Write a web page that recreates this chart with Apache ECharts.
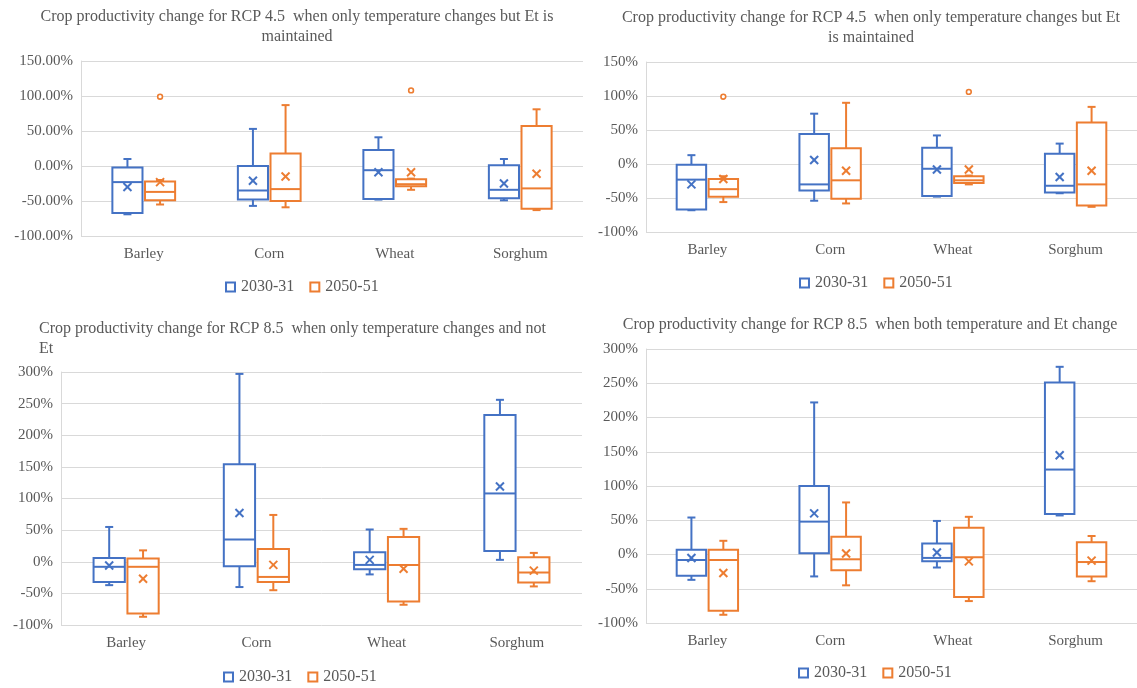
<!DOCTYPE html>
<html>
<head>
<meta charset="utf-8">
<script src="https://cdn.jsdelivr.net/npm/echarts@6/dist/echarts.min.js"></script>
<style>html,body{margin:0;padding:0;background:#fff}#c{width:1137px;height:688px}</style>
</head>
<body>
<div id="c"></div>
<script>
// ---------- DATA (values in %) ----------
const categories = ['Barley', 'Corn', 'Wheat', 'Sorghum'];
const periods = ['2030-31', '2050-51'];
const titles = [
  'Crop productivity change for RCP 4.5  when only temperature changes but Et is\nmaintained',
  'Crop productivity change for RCP 4.5  when only temperature changes but Et\nis maintained',
  'Crop productivity change for RCP 8.5  when only temperature changes and not\nEt',
  'Crop productivity change for RCP 8.5  when both temperature and Et change'
];
const yTicksTop = [-100, -50, 0, 50, 100, 150];
const yTicksBottom = [-100, -50, 0, 50, 100, 150, 200, 250, 300];

// box rows: [min, Q1, median, Q3, max]
const p1Box2030 = [[-69, -67, -23, -2, 10], [-57, -48, -35, 0, 53], [-48, -47, -6, 23, 41], [-49, -46, -34, 1, 10]];
const p1Box2050 = [[-55, -49, -37, -22, -20], [-59, -50, -33, 18, 87], [-34, -29, -26, -19, -18], [-63, -61, -32, 57, 81]];
const p1Mean2030 = [-30, -21, -9, -25];
const p1Mean2050 = [-23, -15, -9, -11];
const p1Out2050 = [[0, 99], [2, 108]];

const p2Box2030 = [[-68, -67, -23, -1, 13], [-54, -39, -30, 44, 74], [-48, -47, -7, 24, 42], [-43, -42, -32, 15, 30]];
const p2Box2050 = [[-56, -48, -37, -22, -18], [-58, -51, -24, 23, 90], [-30, -28, -24, -18, -17], [-63, -61, -30, 61, 84]];
const p2Mean2030 = [-30, 6, -8, -19];
const p2Mean2050 = [-22, -10, -8, -10];
const p2Out2050 = [[0, 99], [2, 106]];

const p3Box2030 = [[-37, -32, -8, 6, 55], [-40, -7, 35, 154, 297], [-20, -12, -5, 15, 51], [3, 17, 108, 232, 256]];
const p3Box2050 = [[-87, -82, -8, 5, 18], [-45, -32, -24, 20, 74], [-68, -63, -5, 39, 52], [-39, -33, -17, 7, 14]];
const p3Mean2030 = [-6, 77, 3, 119];
const p3Mean2050 = [-27, -5, -11, -14];

const p4Box2030 = [[-37, -31, -8, 7, 54], [-32, 2, 48, 100, 222], [-19, -10, -5, 16, 49], [57, 59, 124, 251, 274]];
const p4Box2050 = [[-88, -82, -8, 7, 20], [-45, -23, -7, 26, 76], [-68, -62, -4, 39, 55], [-39, -32, -11, 18, 27]];
const p4Mean2030 = [-5, 60, 3, 145];
const p4Mean2050 = [-27, 1.5, -10, -9];

// ---------- STYLE ----------
const BLUE = '#4472C4', ORANGE = '#ED7D31', TEXT = '#595959', GRID = '#D9D9D9';
const FONT = '"Liberation Serif", "Times New Roman", serif';
const HOLLOW = 'path://M0,0L12,0L12,12L0,12Z M2.2,2.2L2.2,9.8L9.8,9.8L9.8,2.2Z';

const panels = [
  { box: [p1Box2030, p1Box2050], mean: [p1Mean2030, p1Mean2050], out: p1Out2050, grid: { left: 81, top: 61, width: 502, height: 175 }, max: 150, ticks: yTicksTop, fmt: v => v.toFixed(2) + '%', title: { x: 297, y: 6.5, align: 'center' }, legend: { left: 225, top: 279 } },
  { box: [p2Box2030, p2Box2050], mean: [p2Mean2030, p2Mean2050], out: p2Out2050, grid: { left: 646, top: 62, width: 496, height: 170 }, max: 150, ticks: yTicksTop, fmt: v => v + '%', title: { x: 871, y: 8, align: 'center' }, legend: { left: 799, top: 275 } },
  { box: [p3Box2030, p3Box2050], mean: [p3Mean2030, p3Mean2050], out: null, grid: { left: 61, top: 372, width: 521, height: 253 }, max: 300, ticks: yTicksBottom, fmt: v => v + '%', title: { x: 39, y: 319, align: 'left' }, legend: { left: 223, top: 669 } },
  { box: [p4Box2030, p4Box2050], mean: [p4Mean2030, p4Mean2050], out: null, grid: { left: 646, top: 349, width: 496, height: 274 }, max: 300, ticks: yTicksBottom, fmt: v => v + '%', title: { x: 870, y: 315, align: 'center' }, legend: { left: 798, top: 665 } }
];

function makeBoxRender(side) {
  return function (params, api) {
    const cat = api.value(0);
    const band = api.size([1, 0])[0];
    const cx = api.coord([cat, 0])[0] + side * band * 0.13;
    const hw = band * 0.12;
    const cap = 4, s = 4;
    const Y = v => api.coord([cat, v])[1];
    const mn = api.value(1), q1 = api.value(2), md = api.value(3), q3 = api.value(4), mx = api.value(5), mean = api.value(6);
    const color = api.visual('color');
    const ls = { stroke: color, lineWidth: 2, fill: null };
    const m = Y(mean);
    return {
      type: 'group', children: [
        { type: 'line', shape: { x1: cx, y1: Y(mx), x2: cx, y2: Y(q3) }, style: ls },
        { type: 'line', shape: { x1: cx, y1: Y(q1), x2: cx, y2: Y(mn) }, style: ls },
        { type: 'line', shape: { x1: cx - cap, y1: Y(mx), x2: cx + cap, y2: Y(mx) }, style: ls },
        { type: 'line', shape: { x1: cx - cap, y1: Y(mn), x2: cx + cap, y2: Y(mn) }, style: ls },
        { type: 'rect', shape: { x: cx - hw, y: Y(q3), width: 2 * hw, height: Y(q1) - Y(q3) }, style: { stroke: color, lineWidth: 2, fill: '#fff' } },
        { type: 'line', shape: { x1: cx - hw, y1: Y(md), x2: cx + hw, y2: Y(md) }, style: ls },
        { type: 'line', shape: { x1: cx - s, y1: m - s, x2: cx + s, y2: m + s }, style: ls },
        { type: 'line', shape: { x1: cx - s, y1: m + s, x2: cx + s, y2: m - s }, style: ls }
      ]
    };
  };
}
function renderOutlier(params, api) {
  const cat = api.value(0);
  const band = api.size([1, 0])[0];
  const cx = api.coord([cat, 0])[0] + band * 0.13;
  const cy = api.coord([cat, api.value(1)])[1];
  return { type: 'circle', shape: { cx: cx, cy: cy, r: 2.4 }, style: { stroke: api.visual('color'), lineWidth: 1.6, fill: '#fff' } };
}

const option = { animation: false, backgroundColor: '#fff', grid: [], xAxis: [], yAxis: [], series: [], legend: [], graphic: [] };

panels.forEach((p, i) => {
  option.grid.push(Object.assign({ containLabel: false }, p.grid));
  option.xAxis.push({
    type: 'category', gridIndex: i, data: categories, boundaryGap: true,
    axisLine: { show: false }, axisTick: { show: false }, splitLine: { show: false },
    axisLabel: { color: TEXT, fontFamily: FONT, fontSize: 15, margin: 11 }
  });
  option.yAxis.push({
    type: 'value', gridIndex: i, min: p.ticks[0], max: p.max, interval: 50,
    axisLine: { show: true, lineStyle: { color: GRID, width: 1 } }, axisTick: { show: false },
    splitLine: { show: true, lineStyle: { color: GRID, width: 1 } },
    axisLabel: { color: TEXT, fontFamily: FONT, fontSize: 15, margin: 8, formatter: p.fmt }
  });
  [0, 1].forEach(k => {
    option.series.push({
      type: 'custom', name: periods[k], xAxisIndex: i, yAxisIndex: i,
      itemStyle: { color: k === 0 ? BLUE : ORANGE },
      renderItem: makeBoxRender(k === 0 ? -1 : 1),
      encode: { x: 0, y: [1, 2, 3, 4, 5, 6] },
      data: p.box[k].map((b, j) => [j].concat(b, [p.mean[k][j]]))
    });
  });
  if (p.out) {
    option.series.push({
      type: 'custom', name: periods[1], xAxisIndex: i, yAxisIndex: i,
      itemStyle: { color: ORANGE }, renderItem: renderOutlier,
      encode: { x: 0, y: 1 }, data: p.out
    });
  }
  option.legend.push({
    left: p.legend.left, top: p.legend.top, padding: 0, itemWidth: 11, itemHeight: 11, itemGap: 15,
    selectedMode: false,
    textStyle: { color: TEXT, fontFamily: FONT, fontSize: 16 },
    data: [{ name: periods[0], icon: HOLLOW, itemStyle: { color: BLUE } }, { name: periods[1], icon: HOLLOW, itemStyle: { color: ORANGE } }]
  });
  option.graphic.push({
    type: 'text', x: p.title.x, y: p.title.y,
    style: { text: titles[i], fill: TEXT, font: '16px ' + FONT, textAlign: p.title.align, textVerticalAlign: 'top', lineHeight: 20 }
  });
});

const chart = echarts.init(document.getElementById('c'), null, { renderer: 'canvas' });
chart.setOption(option);
</script>
</body>
</html>
